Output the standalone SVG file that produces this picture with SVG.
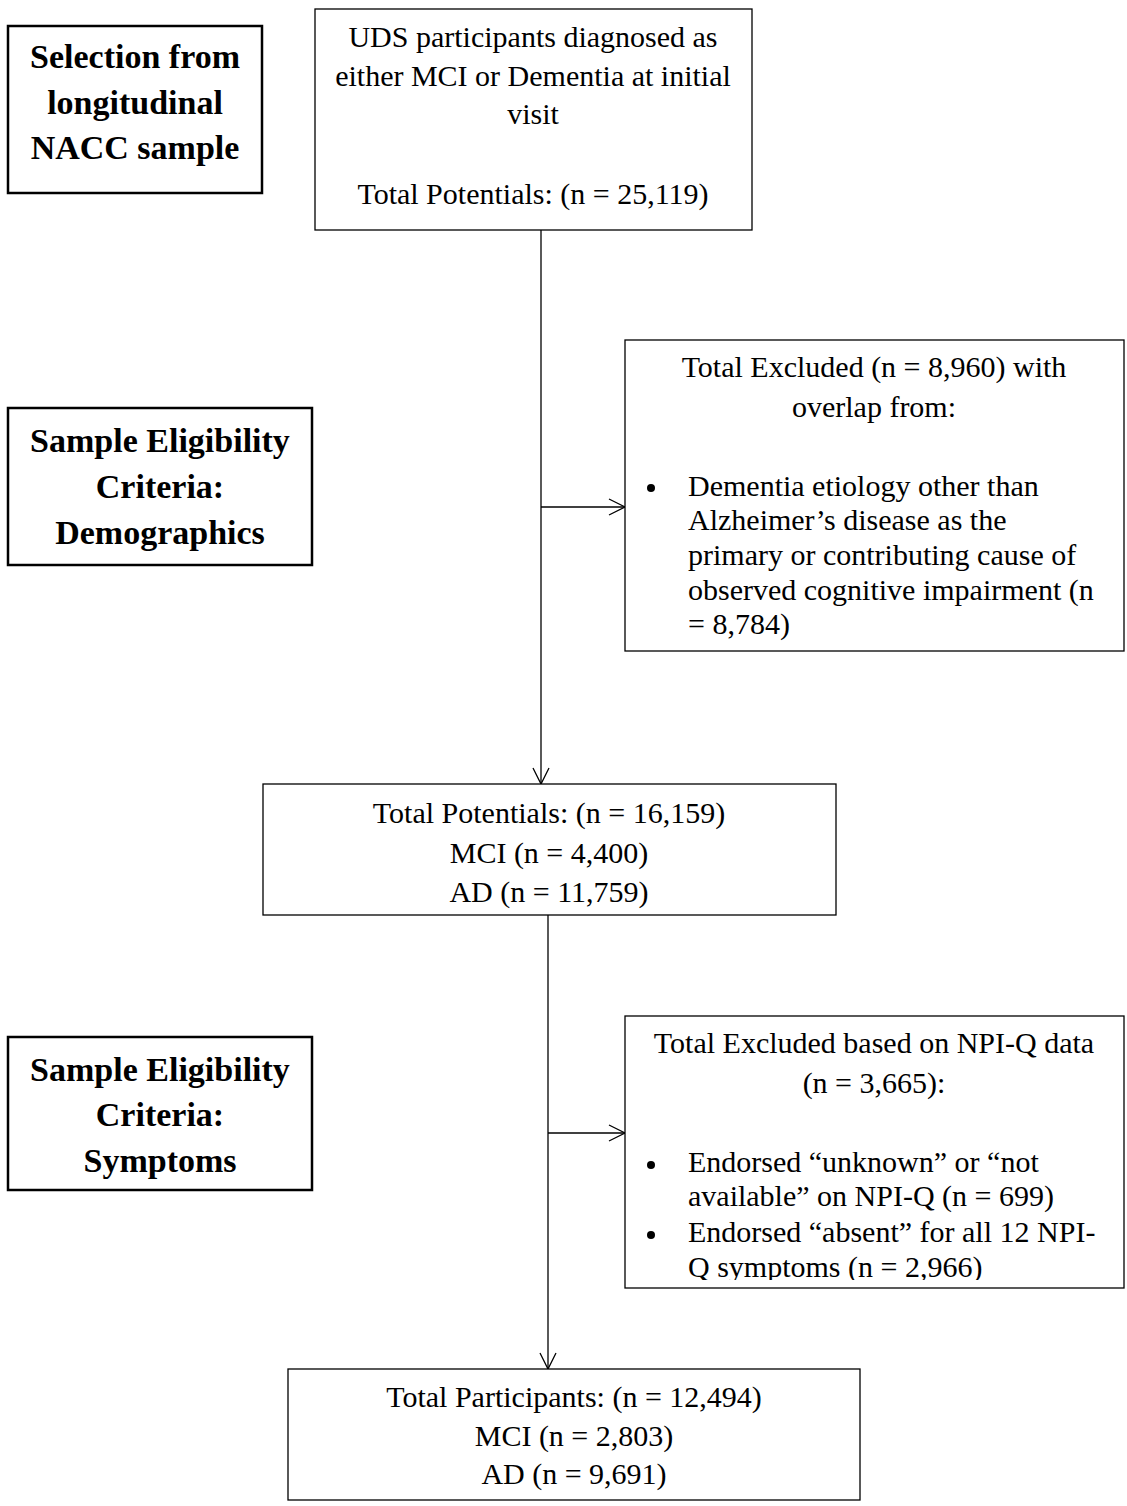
<svg xmlns="http://www.w3.org/2000/svg" width="1127" height="1506" viewBox="0 0 1127 1506">
<style>
.box{fill:#fff;stroke:#000;stroke-width:1.3}
.lbl{fill:#fff;stroke:#000;stroke-width:2.5}
.t{font-family:"Liberation Serif","Times New Roman",serif;font-size:30px;fill:#000}
.c{text-anchor:middle}
.b{font-family:"Liberation Serif","Times New Roman",serif;font-size:34px;font-weight:bold;fill:#000;text-anchor:middle}
.ln{stroke:#000;stroke-width:1.3;fill:none}
</style>
<defs>
<marker id="arr" viewBox="0 0 20 20" refX="18" refY="10" markerWidth="20" markerHeight="20" markerUnits="userSpaceOnUse" orient="auto">
<path d="M2,2 L18,10 L2,18" fill="none" stroke="#000" stroke-width="1.3"/>
</marker>
<clipPath id="clip2"><rect x="625" y="1016" width="500" height="264"/></clipPath>
</defs>
<g id="connectors">
<line class="ln" x1="541" y1="230" x2="541" y2="784" marker-end="url(#arr)"/>
<line class="ln" x1="541" y1="507" x2="625" y2="507" marker-end="url(#arr)"/>
<line class="ln" x1="548" y1="915" x2="548" y2="1369" marker-end="url(#arr)"/>
<line class="ln" x1="548" y1="1133" x2="625" y2="1133" marker-end="url(#arr)"/>
</g>
<g id="label-selection">
<rect class="lbl" x="8" y="26" width="254" height="167"/>
<text class="b" x="135" y="68">Selection from</text>
<text class="b" x="135" y="114">longitudinal</text>
<text class="b" x="135" y="159">NACC sample</text>
</g>
<g id="label-demographics">
<rect class="lbl" x="8" y="408" width="304" height="157"/>
<text class="b" x="160" y="452">Sample Eligibility</text>
<text class="b" x="160" y="498">Criteria:</text>
<text class="b" x="160" y="544">Demographics</text>
</g>
<g id="label-symptoms">
<rect class="lbl" x="8" y="1037" width="304" height="153"/>
<text class="b" x="160" y="1081">Sample Eligibility</text>
<text class="b" x="160" y="1126">Criteria:</text>
<text class="b" x="160" y="1172">Symptoms</text>
</g>
<g id="node-initial">
<rect class="box" x="315" y="9" width="437" height="221"/>
<text class="t c" x="533" y="47">UDS participants diagnosed as</text>
<text class="t c" x="533" y="86">either MCI or Dementia at initial</text>
<text class="t c" x="533" y="124">visit</text>
<text class="t c" x="533" y="204">Total Potentials: (n = 25,119)</text>
</g>
<g id="node-excluded1">
<rect class="box" x="625" y="340" width="499" height="311"/>
<text class="t c" x="874" y="377">Total Excluded (n = 8,960) with</text>
<text class="t c" x="874" y="417">overlap from:</text>
<circle cx="651" cy="488" r="4"/>
<text class="t" x="688" y="496">Dementia etiology other than</text>
<text class="t" x="688" y="530">Alzheimer’s disease as the</text>
<text class="t" x="688" y="565">primary or contributing cause of</text>
<text class="t" x="688" y="600">observed cognitive impairment (n</text>
<text class="t" x="688" y="634">= 8,784)</text>
</g>
<g id="node-potentials">
<rect class="box" x="263" y="784" width="573" height="131"/>
<text class="t c" x="549" y="823">Total Potentials: (n = 16,159)</text>
<text class="t c" x="549" y="863">MCI (n = 4,400)</text>
<text class="t c" x="549" y="902">AD (n = 11,759)</text>
</g>
<g id="node-excluded2">
<rect class="box" x="625" y="1016" width="499" height="272"/>
<text class="t c" x="874" y="1053">Total Excluded based on NPI-Q data</text>
<text class="t c" x="874" y="1093">(n = 3,665):</text>
<circle cx="651" cy="1165" r="4"/>
<text class="t" x="688" y="1172">Endorsed “unknown” or “not</text>
<text class="t" x="688" y="1206">available” on NPI-Q (n = 699)</text>
<circle cx="651" cy="1235" r="4"/>
<g clip-path="url(#clip2)">
<text class="t" x="688" y="1242">Endorsed “absent” for all 12 NPI-</text>
<text class="t" x="688" y="1277">Q symptoms (n = 2,966)</text>
</g>
</g>
<g id="node-final">
<rect class="box" x="288" y="1369" width="572" height="131"/>
<text class="t c" x="574" y="1407">Total Participants: (n = 12,494)</text>
<text class="t c" x="574" y="1446">MCI (n = 2,803)</text>
<text class="t c" x="574" y="1484">AD (n = 9,691)</text>
</g>
</svg>
